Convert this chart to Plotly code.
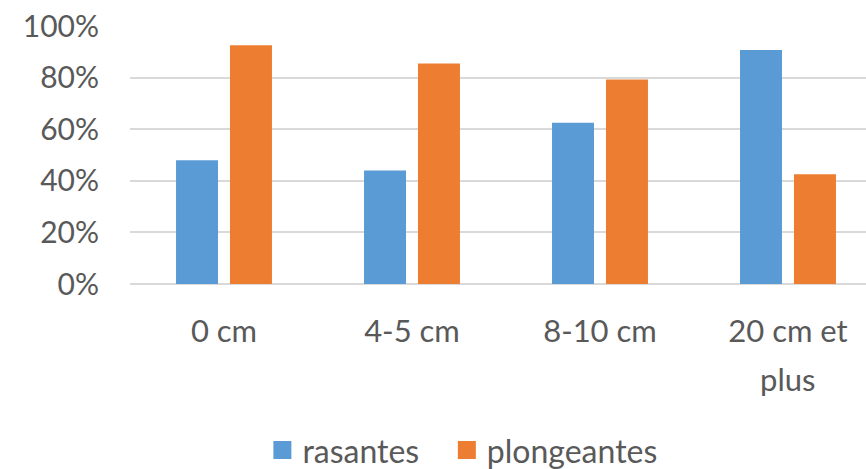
import plotly.graph_objects as go

categories = ["0 cm", "4-5 cm", "8-10 cm", "20 cm et"]
categories_line2 = ["", "", "", "plus"]
rasantes = [0.48, 0.44, 0.625, 0.907]
plongeantes = [0.925, 0.855, 0.793, 0.425]
series_names = ["rasantes", "plongeantes"]
colors = ["#5B9BD5", "#ED7D31"]
y_ticks = [0, 0.2, 0.4, 0.6, 0.8, 1.0]
y_tick_labels = ["0%", "20%", "40%", "60%", "80%", "100%"]

FONT = "Lato"
TXT = "#595959"

fig = go.Figure()
for name, vals, col in zip(series_names, [rasantes, plongeantes], colors):
    fig.add_trace(go.Bar(x=list(range(len(categories))), y=vals, name=name,
                         marker=dict(color=col, line=dict(width=0)),
                         showlegend=False, hoverinfo="skip"))
legend_ids = ["legend", "legend2"]
for name, col, lid in zip(series_names, colors, legend_ids):
    fig.add_trace(go.Scatter(x=[None], y=[None], mode="markers", name=name,
                             marker=dict(symbol="square", size=16, color=col,
                                         line=dict(color=col, width=2)),
                             showlegend=True, legend=lid))

for i, txt in enumerate(categories_line2):
    if txt:
        fig.add_annotation(x=i, y=0, xref="x", yref="paper", text=txt,
                           showarrow=False, yanchor="middle", yshift=-95,
                           font=dict(family=FONT, size=31, color=TXT))

leg_common = dict(orientation="h", xref="container", xanchor="left",
                  yref="container", y=0.04, yanchor="middle",
                  font=dict(family=FONT, size=32, color=TXT), itemwidth=30,
                  bgcolor="rgba(0,0,0,0)")

fig.update_layout(
    width=866, height=469,
    margin=dict(l=130, r=0, t=26, b=185, autoexpand=False),
    plot_bgcolor="white", paper_bgcolor="white",
    font=dict(family=FONT, color=TXT, size=30),
    barmode="group", bargap=0.426, bargroupgap=0.222,
    showlegend=True,
    legend=dict(x=0.303, **leg_common),
    legend2=dict(x=0.516, **leg_common),
    xaxis=dict(range=[-0.5, 3.415], tickmode="array",
               tickvals=list(range(len(categories))), ticktext=categories,
               showgrid=False, showline=False, zeroline=False, ticks="",
               tickfont=dict(family=FONT, size=31, color=TXT),
               ticklabelstandoff=26, fixedrange=True),
    yaxis=dict(range=[0, 1.0], tickmode="array", tickvals=y_ticks, ticktext=y_tick_labels,
               showgrid=True, gridcolor="#D9D9D9", gridwidth=1.5,
               zeroline=True, zerolinecolor="#D9D9D9", zerolinewidth=1.5,
               showline=False, ticks="",
               tickfont=dict(family=FONT, size=30, color=TXT),
               ticklabelstandoff=30, fixedrange=True),
)

fig.write_html("out.html")
